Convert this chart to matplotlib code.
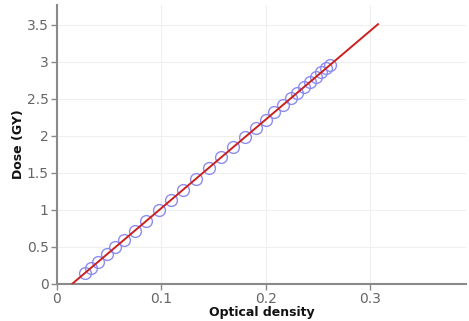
import numpy as np
import matplotlib
matplotlib.use("Agg")
import matplotlib.pyplot as plt

od = [0.0269, 0.0330, 0.0393, 0.0480, 0.0560, 0.0647, 0.0744, 0.0856, 0.0977, 0.1090,
      0.1203, 0.1332, 0.1454, 0.1575, 0.1688, 0.1800, 0.1905, 0.2001, 0.2080, 0.2168,
      0.2239, 0.2302, 0.2364, 0.2427, 0.2481, 0.2535, 0.2581, 0.2619]
dose = [0.15, 0.22, 0.30, 0.40, 0.50, 0.60, 0.72, 0.85, 1.00, 1.13,
        1.27, 1.42, 1.57, 1.71, 1.85, 1.98, 2.11, 2.22, 2.32, 2.42,
        2.51, 2.58, 2.66, 2.73, 2.80, 2.86, 2.92, 2.96]

# span of the fitted line
fit_x = [0.0144, 0.3077]

x_ticks = [0, 0.1, 0.2, 0.3]
x_tick_labels = ["0", "0.1", "0.2", "0.3"]
y_ticks = [0, 0.5, 1, 1.5, 2, 2.5, 3, 3.5]
y_tick_labels = ["0", "0.5", "1", "1.5", "2", "2.5", "3", "3.5"]

plt.rcParams['font.family'] = ['DejaVu Sans']

fig = plt.figure(figsize=(4.69, 3.21), dpi=100)
ax = fig.add_axes([0.1215, 0.1153, 0.8721, 0.8691])

coef = np.polyfit(od, dose, 1)
ax.plot(od, dose, linestyle="none", marker="o", markersize=8.5,
        markerfacecolor="none", markeredgecolor="#8c8cf0", markeredgewidth=1.0, zorder=2)
ax.plot(fit_x, np.polyval(coef, fit_x), color="#cc2020", linewidth=1.4, zorder=3)

ax.set_xlim(0, 0.392)
ax.set_ylim(0, 3.77)
ax.set_xticks(x_ticks)
ax.set_xticklabels(x_tick_labels)
ax.set_yticks(y_ticks)
ax.set_yticklabels(y_tick_labels)

ax.grid(True, color="#efefef", linewidth=0.8)
ax.set_axisbelow(True)
for s in ["top", "right"]:
    ax.spines[s].set_visible(False)
for s in ["left", "bottom"]:
    ax.spines[s].set_color("#8a8a8a")
    ax.spines[s].set_linewidth(1.5)
ax.tick_params(colors="#8a8a8a", labelcolor="#666666", labelsize=10, length=4, width=1, pad=2)

ax.set_xlabel("Optical density", fontsize=9, fontweight="bold", color="#111111", labelpad=0)
ax.set_ylabel("Dose (GY)", fontsize=9, fontweight="bold", color="#111111", labelpad=1)

fig.savefig("out.png", dpi=100)
